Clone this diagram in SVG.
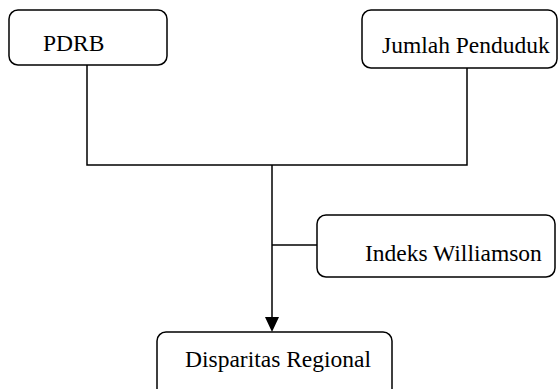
<svg xmlns="http://www.w3.org/2000/svg" width="558" height="389" viewBox="0 0 558 389">
<style>
.box{fill:#fff;stroke:#000;stroke-width:1.5}
.lbl{font-family:"Liberation Serif","Times New Roman",serif;font-size:23.5px;fill:#000}
.ln{stroke:#000;stroke-width:1.5;fill:none}
</style>
<rect width="558" height="389" fill="#fff"/>
<g id="connectors">
<path class="ln" d="M87,65 V165 H467 V68"/>
<path class="ln" d="M272,165 V318"/>
<path class="ln" d="M272,245 H317"/>
<polygon points="265,317 279,317 272,332" fill="#000"/>
</g>
<g id="pdrb">
<rect class="box" x="9" y="10" width="158" height="55" rx="9"/>
<text class="lbl" x="43" y="51">PDRB</text>
</g>
<g id="jumlah">
<rect class="box" x="362" y="10" width="195" height="58" rx="9"/>
<text class="lbl" x="382" y="53">Jumlah Penduduk</text>
</g>
<g id="indeks">
<rect class="box" x="317" y="215" width="238" height="62" rx="9"/>
<text class="lbl" x="365" y="261">Indeks Williamson</text>
</g>
<g id="disparitas">
<rect class="box" x="157" y="332" width="235" height="70" rx="9"/>
<text class="lbl" x="185" y="367">Disparitas Regional</text>
</g>
</svg>
